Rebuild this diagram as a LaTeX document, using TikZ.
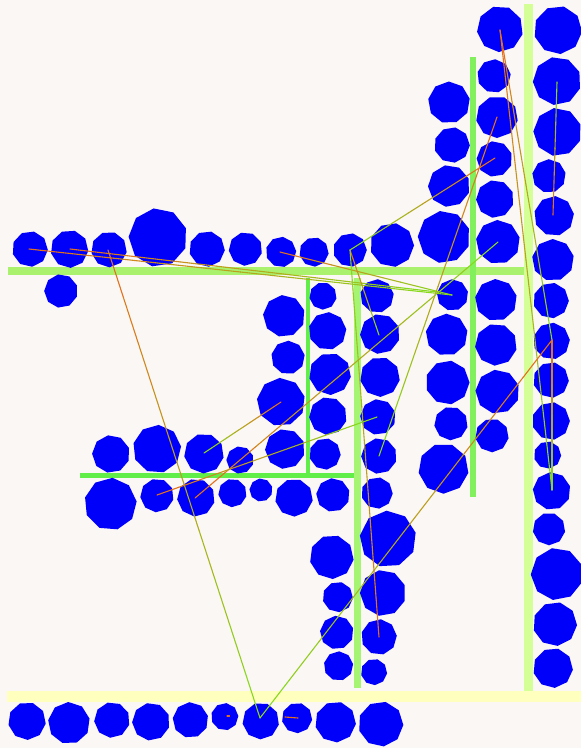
\documentclass[tikz,border=0pt]{standalone}
\usetikzlibrary{calc}
\definecolor{bg}{RGB}{251,247,244}
\definecolor{blobc}{RGB}{0,0,250}
\definecolor{lo}{RGB}{228,112,28}
\definecolor{lg}{RGB}{135,218,30}
\definecolor{barA}{RGB}{170,242,110}
\definecolor{barB}{RGB}{130,240,92}
\definecolor{barC}{RGB}{212,255,150}
\definecolor{barD}{RGB}{98,238,72}
\definecolor{barE}{RGB}{165,245,115}
\definecolor{barF}{RGB}{255,255,190}
\tikzset{
  blobfill/.style={fill=blobc},
  conn/.style={line width=1.1pt,line cap=round},
}
\newcommand\blob[3]{%
  \pgfmathsetmacro\rot{mod(#1*7+#2*3,40)}%
  \pgfmathsetmacro\rr{#3*1.05}%
  \fill[blobfill,shift={(#1,#2)},rotate=\rot]
    (0:\rr) -- (40:\rr) -- (80:\rr) -- (120:\rr) -- (160:\rr) -- (200:\rr)
    -- (240:\rr) -- (280:\rr) -- (320:\rr) -- cycle;}
\newcommand\gl[2]{%
  \foreach \k in {0,...,9}{%
    \pgfmathtruncatemacro\mx{100-\k*11}%
    \pgfmathsetmacro\pa{\k/10}%
    \pgfmathsetmacro\pb{(\k+1)/10}%
    \draw[conn,draw=lo!\mx!lg] ($(#1)!\pa!(#2)$) -- ($(#1)!\pb!(#2)$);}}
\begin{document}
\begin{tikzpicture}[x=1pt,y=-1pt]
\useasboundingbox (0,0) rectangle (581,748);
\fill[bg] (0,0) rectangle (581,748);
% bars
\fill[barA] (8,266.7) rectangle (524,275);
\fill[barB] (469.5,57) rectangle (476,497);
\fill[barC] (523.5,4) rectangle (532.5,691);
\fill[barD] (305.5,278) rectangle (310,476);
\fill[barD] (80,473.3) rectangle (353.5,478.3);
\fill[barE] (353.5,278) rectangle (360.5,688);
\fill[barF] (7,691) rectangle (581,702);
% blobs
\foreach \x/\y/\r in {30/249/17, 69.5/249/18, 109/249.5/17, 158/237.5/28, 207/249/17,
  245.5/249/16, 281/252/14.5, 314/252/14, 350/250/16, 392/245/21, 444/237/25, 61/291/16,
  449/102.5/20, 452/145/17, 449/186/20,
  500/29/22, 494/76/16, 497/117/20, 494.5/159/17, 495/199/18, 498/242/21,
  558/30/23, 557/81/23, 557.5/132/23, 549/176/16, 554/216/19, 553/260/20,
  551/300.5/17, 551.5/341/17.5, 551/380/17, 551/421/18, 547.5/455/13, 551.7/491/18,
  549/529/15.5, 557/574/25, 555/624/21, 553/668/19,
  452.5/295/15, 446.7/334.7/20, 447.5/382.5/21, 451/423.5/16, 443.5/468.5/24,
  496/300/20, 496/344.7/20, 497.5/391.7/21, 492/435.5/16,
  377/296/16, 380/334/19, 380/377/19, 378/417/17, 379/456/17, 377/493/15,
  388/539/27, 383/593/22, 379/637/17, 374/672/12.5,
  323/296/13, 327.5/331/18, 330/374/20, 328/416/18, 325/454/15,
  284/316/20, 288/357.5/16, 281/402/23, 285/449/19,
  111/454/18, 157/449/23, 204/453.5/19, 240/460/13,
  110.5/504/25, 157/495.5/16, 196/497.7/18, 232.5/493/13.5, 261/490/11, 294/497.7/18, 333/495/16,
  331.7/557/21, 337.8/597/14.5, 336.8/632.5/16, 338.5/666/14,
  27/721/18, 69/723/20, 112/720/17, 151/721.7/18, 190.5/720/17, 224.7/716.7/13,
  260.8/721/17.5, 297/718/14.5, 335.5/722/19.5, 380.8/724/21.5}
  {\blob{\x}{\y}{\r}}
% connector end points
\coordinate (a1) at (500,30);
\coordinate (a2) at (552,340);
\coordinate (a3) at (552,490);
\coordinate (a4) at (260,718);
\coordinate (a5) at (108,250);
\coordinate (b1) at (29,249);
\coordinate (b2) at (70,249);
\coordinate (b3) at (280,252);
\coordinate (c1) at (452,295);
\coordinate (c2) at (437,292);
\coordinate (d1) at (495,158);
\coordinate (d2) at (350,250);
\coordinate (d3) at (379,335);
\coordinate (d4) at (379,637);
\coordinate (e1) at (497,117);
\coordinate (e2) at (379,456);
\coordinate (f1) at (195,498);
\coordinate (f2) at (498,242);
\coordinate (g1) at (281,402);
\coordinate (g2) at (204,453);
\coordinate (h1) at (157,495);
\coordinate (h2) at (377,417);
\coordinate (k1) at (553,215);
\coordinate (k2) at (557,82);
\coordinate (m1) at (285,717);
\coordinate (m2) at (298,718);
\coordinate (n1) at (227,716);
\coordinate (n2) at (229.5,716);
% connectors (first = orange end, second = green end)
\gl{a1}{a2}
\gl{a1}{a3}
\gl{a2}{a3}
\gl{a2}{a4}
\gl{a5}{a4}
\gl{b1}{c1}
\gl{b2}{c2}
\gl{b3}{c1}
\gl{d1}{d2}
\gl{d2}{d3}
\gl{d4}{d2}
\gl{e1}{e2}
\gl{f1}{f2}
\gl{g1}{g2}
\gl{h1}{h2}
\gl{k1}{k2}
\draw[conn,draw=lo] (m1) -- (m2);
\draw[conn,draw=lo] (n1) -- (n2);
\end{tikzpicture}
\end{document}
